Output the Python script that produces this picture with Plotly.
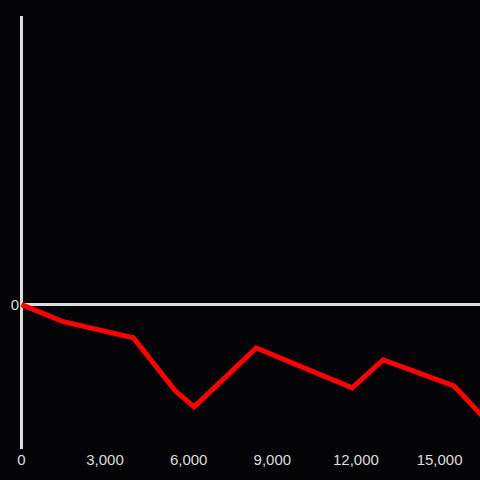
import plotly.graph_objects as go

x_vals = [0, 1505, 4014, 5520, 6200, 8423, 11864, 12975, 15520, 17000]
y_vals = [0, -11.8, -22.9, -59.7, -70.8, -29.9, -57.6, -38.2, -56.3, -86.8]
x_ticks = [0, 3000, 6000, 9000, 12000, 15000]
x_tick_text = ["0", "3,000", "6,000", "9,000", "12,000", "15,000"]

fig = go.Figure()
fig.add_trace(go.Scatter(x=x_vals, y=y_vals, mode="lines",
                         line=dict(color="#ff0000", width=5)))

bg = "#040306"
fig.update_layout(
    width=480, height=480,
    margin=dict(l=20, r=0, t=16, b=31),
    paper_bgcolor=bg, plot_bgcolor=bg,
    showlegend=False,
    font=dict(family="Liberation Sans, Arial, sans-serif", size=15, color="#dddddd"),
    xaxis=dict(range=[-50, 16450], tickvals=x_ticks, ticktext=x_tick_text,
               showgrid=False, zeroline=True, zerolinecolor="#dddddd", zerolinewidth=3,
               showline=False, ticks=""),
    yaxis=dict(range=[-100, 200], tickvals=[0], ticktext=["0"],
               showgrid=False, zeroline=True, zerolinecolor="#dddddd", zerolinewidth=3,
               showline=False, ticks=""),
)
fig.write_html("out.html", config={"displayModeBar": False},
               post_script="document.body.style.margin='0';document.body.style.background='#040306';")
